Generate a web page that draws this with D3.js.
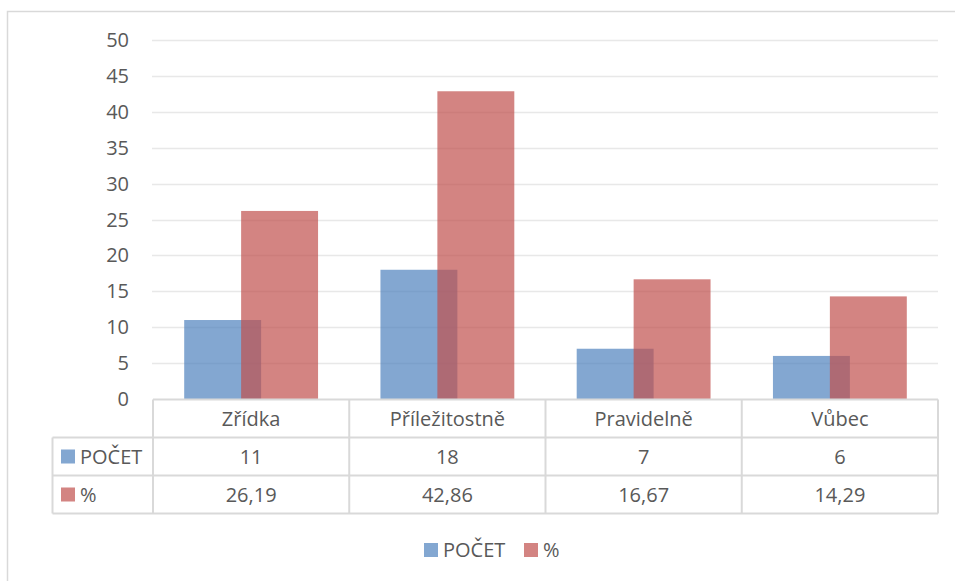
<!doctype html>
<html lang='cs'>
  <head>
    <meta charset='utf-8'>
    <title>POČET a %</title>
    <script src='https://cdn.jsdelivr.net/npm/d3@7'></script>
    <style>
      html, body { margin: 0; padding: 0; background: #fff; }
      svg { display: block; font-family: 'Open Sans', sans-serif; }
    </style>
  </head>
  <body>
    <svg width='955' height='581'></svg>
    <script>
      // data
      var categories = ['Zřídka', 'Příležitostně', 'Pravidelně', 'Vůbec'];
      var seriesNames = ['POČET', '%'];
      var pocet = [11, 18, 7, 6];
      var procenta = [26.19, 42.86, 16.67, 14.29];
      var procentaLabels = ['26,19', '42,86', '16,67', '14,29'];
      var yTicks = [0, 5, 10, 15, 20, 25, 30, 35, 40, 45, 50];

      var colors = { 'POČET': '#4f81bd', '%': '#c0504d' };
      var gridColor = '#d9d9d9';
      var textColor = '#595959';
      var fontSize = 20;

      var svg = d3.select('svg');

      // outer frame (only left and top visible)
      svg.append('path')
        .attr('d', 'M7.5,581 V11.5 H955')
        .attr('fill', 'none')
        .attr('stroke', gridColor)
        .attr('stroke-width', 1.5);

      var plotLeft = 153, plotRight = 938;
      var y = d3.scaleLinear().domain([0, 50]).range([399, 40]);
      var x = d3.scaleBand().domain(categories).range([plotLeft, plotRight]);

      // gridlines
      svg.append('g')
        .selectAll('line')
        .data(yTicks.filter(function(d) { return d > 0; }))
        .enter().append('line')
        .attr('x1', plotLeft - 1)
        .attr('x2', plotRight)
        .attr('y1', function(d) { return Math.round(y(d)) + 0.5; })
        .attr('y2', function(d) { return Math.round(y(d)) + 0.5; })
        .attr('stroke', '#e8e8e8')
        .attr('stroke-width', 1.5);

      // y axis labels
      svg.append('g')
        .attr('font-size', fontSize)
        .attr('fill', textColor)
        .attr('text-anchor', 'end')
        .selectAll('text')
        .data(yTicks)
        .enter().append('text')
        .attr('x', 129)
        .attr('y', function(d) { return y(d); })
        .attr('dy', '0.35em')
        .text(function(d) { return d; });

      // bars
      var bw = x.bandwidth();
      var barW = bw * 0.392;
      var overlap = barW * 0.26;
      var groupW = 2 * barW - overlap;
      var rows = [pocet, procenta];

      seriesNames.forEach(function(name, s) {
        svg.append('g')
          .selectAll('rect')
          .data(categories)
          .enter().append('rect')
          .attr('x', function(d) { return x(d) + (bw - groupW) / 2 + s * (barW - overlap); })
          .attr('y', function(d, i) { return y(rows[s][i]); })
          .attr('width', barW)
          .attr('height', function(d, i) { return y(0) - y(rows[s][i]); })
          .attr('fill', colors[name])
          .attr('fill-opacity', 0.7);
      });

      // data table
      var rowH = 38;
      var tableTop = 399.5;
      var tableLeft = 52.5;
      var table = svg.append('g')
        .attr('stroke', gridColor)
        .attr('stroke-width', 2)
        .attr('fill', 'none');

      // horizontal lines
      table.append('line').attr('x1', plotLeft).attr('x2', plotRight).attr('y1', tableTop).attr('y2', tableTop);
      [1, 2, 3].forEach(function(r) {
        table.append('line')
          .attr('x1', tableLeft).attr('x2', plotRight)
          .attr('y1', tableTop + r * rowH).attr('y2', tableTop + r * rowH);
      });
      // vertical lines
      table.append('line').attr('x1', tableLeft).attr('x2', tableLeft)
        .attr('y1', tableTop + rowH).attr('y2', tableTop + 3 * rowH);
      categories.forEach(function(c) {
        table.append('line').attr('x1', x(c)).attr('x2', x(c))
          .attr('y1', tableTop).attr('y2', tableTop + 3 * rowH);
      });
      table.append('line').attr('x1', plotRight).attr('x2', plotRight)
        .attr('y1', tableTop).attr('y2', tableTop + 3 * rowH);

      var cellText = svg.append('g')
        .attr('font-size', fontSize)
        .attr('fill', textColor)
        .attr('text-anchor', 'middle');

      cellText.selectAll('.cat')
        .data(categories)
        .enter().append('text')
        .attr('x', function(d) { return x(d) + bw / 2; })
        .attr('y', tableTop + rowH / 2)
        .attr('dy', '0.35em')
        .text(function(d) { return d; });

      var valueRows = [pocet.map(String), procentaLabels];
      valueRows.forEach(function(vals, r) {
        cellText.selectAll('.r' + r)
          .data(vals)
          .enter().append('text')
          .attr('x', function(d, i) { return x(categories[i]) + bw / 2; })
          .attr('y', tableTop + (r + 1.5) * rowH)
          .attr('dy', '0.35em')
          .text(function(d) { return d; });
      });

      // legend keys in table
      seriesNames.forEach(function(name, r) {
        var cy = tableTop + (r + 1.5) * rowH;
        svg.append('rect')
          .attr('x', 61).attr('y', cy - 7)
          .attr('width', 14).attr('height', 14)
          .attr('fill', colors[name]).attr('fill-opacity', 0.7);
        svg.append('text')
          .attr('x', 80).attr('y', cy).attr('dy', '0.35em')
          .attr('font-size', fontSize).attr('fill', textColor)
          .text(name);
      });

      // bottom legend
      var legend = svg.append('g')
        .attr('font-size', fontSize)
        .attr('fill', textColor)
        .selectAll('g')
        .data(seriesNames)
        .enter().append('g')
        .attr('transform', function(d, i) { return 'translate(' + (424 + i * 100) + ',549)'; });
      legend.append('rect')
        .attr('y', -6).attr('width', 14).attr('height', 14)
        .attr('fill', function(d) { return colors[d]; })
        .attr('fill-opacity', 0.7);
      legend.append('text')
        .attr('x', 19).attr('y', 1).attr('dy', '0.35em')
        .text(function(d) { return d; });
    </script>
  </body>
</html>
